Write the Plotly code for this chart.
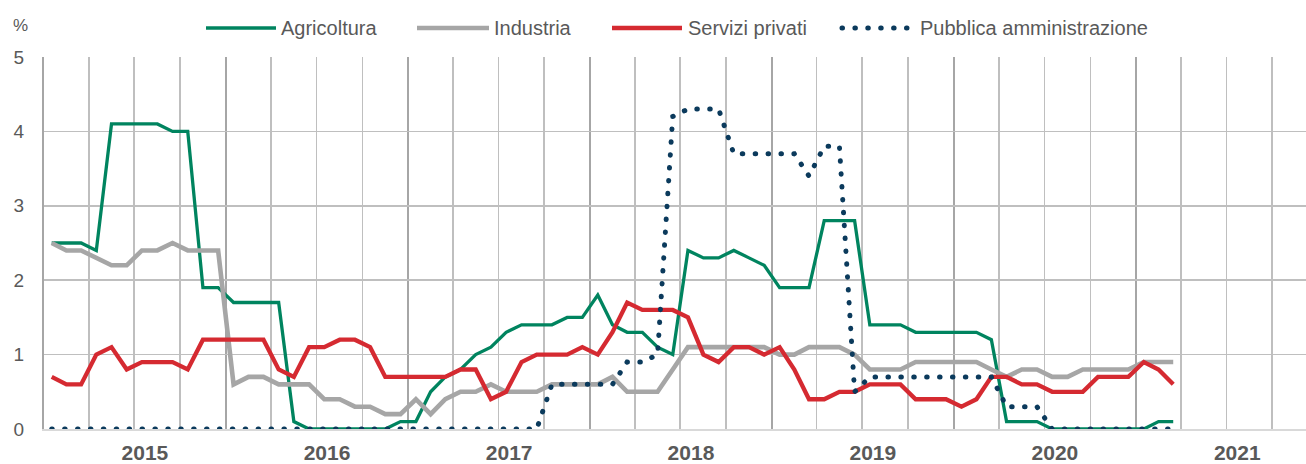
import pandas as pd
import plotly.graph_objects as go

# ---------------- data (monthly, Jan 2015 - Mar 2021) ----------------
months = pd.date_range("2015-01-01", "2021-03-01", freq="MS")

agricoltura = [2.5, 2.5, 2.5, 2.4, 4.1, 4.1, 4.1, 4.1, 4.0, 4.0,
               1.9, 1.9, 1.7, 1.7, 1.7, 1.7, 0.1, 0.0, 0.0, 0.0,
               0.0, 0.0, 0.0, 0.1, 0.1, 0.5, 0.7, 0.8, 1.0, 1.1,
               1.3, 1.4, 1.4, 1.4, 1.5, 1.5, 1.8, 1.4, 1.3, 1.3,
               1.1, 1.0, 2.4, 2.3, 2.3, 2.4, 2.3, 2.2, 1.9, 1.9,
               1.9, 2.8, 2.8, 2.8, 1.4, 1.4, 1.4, 1.3, 1.3, 1.3,
               1.3, 1.3, 1.2, 0.1, 0.1, 0.1, 0.0, 0.0, 0.0, 0.0,
               0.0, 0.0, 0.0, 0.1, 0.1]

industria = [2.5, 2.4, 2.4, 2.3, 2.2, 2.2, 2.4, 2.4, 2.5, 2.4,
             2.4, 2.4, 0.6, 0.7, 0.7, 0.6, 0.6, 0.6, 0.4, 0.4,
             0.3, 0.3, 0.2, 0.2, 0.4, 0.2, 0.4, 0.5, 0.5, 0.6,
             0.5, 0.5, 0.5, 0.6, 0.6, 0.6, 0.6, 0.7, 0.5, 0.5,
             0.5, 0.8, 1.1, 1.1, 1.1, 1.1, 1.1, 1.1, 1.0, 1.0,
             1.1, 1.1, 1.1, 1.0, 0.8, 0.8, 0.8, 0.9, 0.9, 0.9,
             0.9, 0.9, 0.8, 0.7, 0.8, 0.8, 0.7, 0.7, 0.8, 0.8,
             0.8, 0.8, 0.9, 0.9, 0.9]

servizi_privati = [0.7, 0.6, 0.6, 1.0, 1.1, 0.8, 0.9, 0.9, 0.9, 0.8,
                   1.2, 1.2, 1.2, 1.2, 1.2, 0.8, 0.7, 1.1, 1.1, 1.2,
                   1.2, 1.1, 0.7, 0.7, 0.7, 0.7, 0.7, 0.8, 0.8, 0.4,
                   0.5, 0.9, 1.0, 1.0, 1.0, 1.1, 1.0, 1.3, 1.7, 1.6,
                   1.6, 1.6, 1.5, 1.0, 0.9, 1.1, 1.1, 1.0, 1.1, 0.8,
                   0.4, 0.4, 0.5, 0.5, 0.6, 0.6, 0.6, 0.4, 0.4, 0.4,
                   0.3, 0.4, 0.7, 0.7, 0.6, 0.6, 0.5, 0.5, 0.5, 0.7,
                   0.7, 0.7, 0.9, 0.8, 0.6]

pubblica_amm = [0.0] * 33 + [0.6, 0.6, 0.6, 0.6, 0.6, 0.9, 0.9, 1.0,
                             4.2, 4.3, 4.3, 4.3, 3.7, 3.7, 3.7, 3.7, 3.7, 3.4, 3.8, 3.8,
                             0.5,
                             0.7, 0.7, 0.7, 0.7, 0.7, 0.7, 0.7, 0.7, 0.7,
                             0.3, 0.3, 0.3] + [0.0] * 9

series_names = ["Agricoltura", "Industria", "Servizi privati", "Pubblica amministrazione"]
series_values = [agricoltura, industria, servizi_privati, pubblica_amm]

# ---------------- styles ----------------
W, H = 1306, 464
L, R, T, B = 44, 0, 57, 35
TXT = "#595959"
FONT = "Liberation Sans, Arial, sans-serif"
DOT = "0.5px,12.4px"
styles = [
    dict(color="#00845F", width=3.3, dash="solid"),
    dict(color="#A6A6A6", width=4.6, dash="solid"),
    dict(color="#D52A31", width=4.3, dash="solid"),
    dict(color="#0B3A5C", width=5.0, dash=DOT),
]

fig = go.Figure()
for name, vals, st in zip(series_names, series_values, styles):
    fig.add_trace(go.Scatter(
        x=months, y=vals, name=name, mode="lines",
        xperiod="M1", xperiodalignment="middle",
        line=dict(color=st["color"], width=st["width"], dash=st["dash"]),
        showlegend=False, hoverinfo="skip",
    ))

# ---------------- custom legend (pixel layout -> paper coords) ----------------
pw, ph = W - L - R, H - T - B
def px_x(px):
    return (px - L) / pw
def px_y(py):
    return (H - B - py) / ph

legend_layout = [  # (line start px, line end px, text start px)
    (206, 276, 279),
    (417, 489, 492),
    (612, 682, 686),
    (842, 912, 918),
]
ly = 28
for (x0, x1, xt), name, st in zip(legend_layout, series_names, styles):
    fig.add_shape(type="line", xref="paper", yref="paper",
                  x0=px_x(x0), x1=px_x(x1), y0=px_y(ly), y1=px_y(ly),
                  line=dict(color=st["color"], width=st["width"], dash=st["dash"]))
    fig.add_annotation(xref="paper", yref="paper", x=px_x(xt), y=px_y(ly),
                       text=name, showarrow=False, xanchor="left", yanchor="middle",
                       font=dict(family=FONT, size=20, color=TXT))

fig.add_annotation(xref="paper", yref="paper", x=px_x(20), y=px_y(25),
                   text="%", showarrow=False, xanchor="center", yanchor="middle",
                   font=dict(family=FONT, size=17, color=TXT))

fig.update_layout(
    width=W, height=H, autosize=False,
    margin=dict(l=L, r=R, t=T, b=B, pad=0, autoexpand=False),
    paper_bgcolor="white", plot_bgcolor="white",
    showlegend=False,
)

fig.update_xaxes(
    type="date", automargin=False,
    range=["2015-01-01", "2021-12-08"],
    tick0="2015-01-01", dtick="M12",
    ticklabelmode="period", tickformat="%Y",
    ticklabelshift=10, ticklabelstandoff=4,
    showgrid=True, gridcolor="#A6A6A6", gridwidth=2,
    minor=dict(dtick="M3", tick0="2015-01-01", showgrid=True,
               gridcolor="#BFBFBF", gridwidth=1.5),
    ticks="", showline=True, linecolor="#D9D9D9", linewidth=2,
    zeroline=False,
    tickfont=dict(family=FONT, size=21, color=TXT, weight="bold"),
)
fig.update_yaxes(
    automargin=False,
    range=[0, 5], dtick=1, tick0=0,
    showgrid=True, gridcolor="#BFBFBF", gridwidth=1.5,
    zeroline=False, ticks="", showline=True, linecolor="#A6A6A6", linewidth=2,
    ticklabelstandoff=14,
    tickfont=dict(family=FONT, size=19, color=TXT),
)

post = """
document.body.style.margin = '0';
document.body.style.padding = '0';
var gd = document.getElementById('{plot_id}');
gd.querySelectorAll('path').forEach(function(p){
  var d = p.style.strokeDasharray;
  if (d && d !== 'none' && d !== '') { p.style.strokeLinecap = 'round'; }
});
"""
fig.write_html("out.html", post_script=post,
               config={"displayModeBar": False, "staticPlot": True})
